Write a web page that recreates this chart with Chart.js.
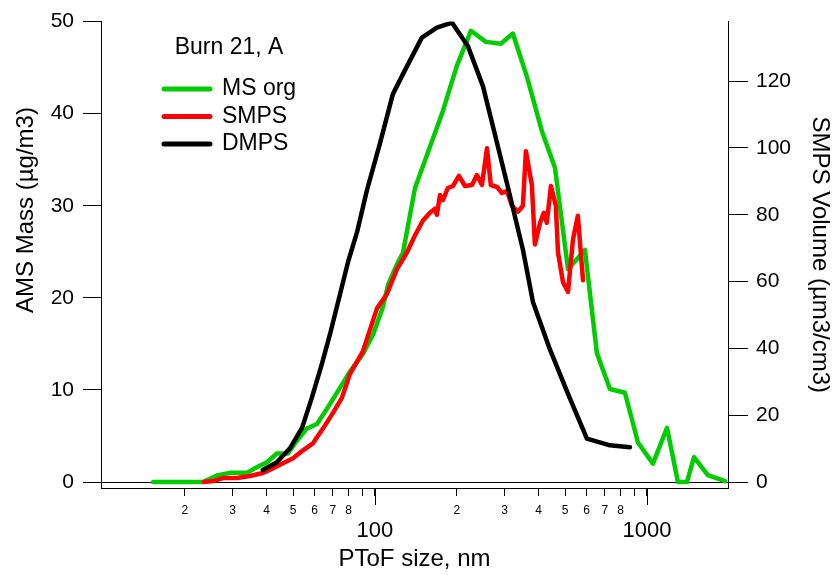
<!DOCTYPE html>
<html>
<head>
<meta charset="utf-8">
<title>Burn 21, A</title>
<script src="https://cdn.jsdelivr.net/npm/chart.js@4.4.1/dist/chart.umd.min.js"></script>
<style>
  html, body { margin: 0; padding: 0; background: #fff; }
</style>
</head>
<body>
<canvas id="sizeChart" width="832" height="575"></canvas>
<script>
// MS org (AMS mass, left axis)
const msOrgSize = [15.3, 23.3, 26.5, 29.3, 33.8, 36.8, 40.1, 43.6, 47.9, 50.8, 56.2, 61.2, 67.1, 74.3, 80.9, 90.3, 98.4, 107, 111.7, 121.6, 126.8, 140.3, 177.8, 200, 225.4, 255.9, 290.4, 321.4, 362.2, 411.1, 459.2, 512.6, 591.6, 654.6, 731, 829.9, 926.8, 1052, 1185, 1300, 1403, 1489, 1675, 1936];
const msOrgMass = [0, 0, 0.75, 1.0, 1.0, 1.6, 2.15, 3.1, 3.1, 4.2, 5.8, 6.3, 8.1, 10.2, 12.0, 13.9, 16.0, 19.0, 21.4, 23.9, 24.9, 31.9, 40.3, 45.2, 49.0, 47.8, 47.6, 48.7, 44.0, 38.1, 34.1, 23.1, 25.2, 14.0, 10.1, 9.7, 4.3, 2.0, 5.9, 0, 0, 2.7, 0.75, 0.1];

// SMPS volume (right axis)
const smpsSize = [23.5, 25.4, 27.6, 31.1, 34.7, 38.7, 42.2, 45.9, 50.0, 54.4, 59.2, 64.4, 70.1, 75.6, 80.9, 90.3, 101.7, 110.7, 120.5, 131.1, 140.3, 150, 159.3, 166.3, 169, 173.4, 177.8, 185.4, 193.6, 203.6, 214.3, 227.5, 237.1, 247.4, 258.2, 266.7, 281.2, 293.1, 305.6, 319.1, 335.7, 349.9, 358.9, 377.6, 387.3, 404.6, 417.8, 428.5, 443.6, 462.4, 471, 491, 512.6, 534.6, 557.2, 582.1];
const smpsVolume = [0, 0.3, 1.2, 1.2, 1.8, 2.7, 4.1, 5.6, 7.1, 9.5, 11.6, 16.0, 20.7, 25.2, 32.3, 39.1, 51.9, 56.3, 63.7, 68.7, 73.8, 78.2, 80.6, 81.8, 80.0, 85.9, 84.4, 88.0, 88.6, 91.6, 88.6, 88.9, 91.9, 88.9, 99.9, 88.9, 88.3, 86.5, 87.1, 82.7, 80.9, 82.7, 99.0, 88.9, 71.1, 77.6, 80.6, 77.6, 88.6, 82.7, 68.7, 59.9, 56.9, 72.6, 79.7, 60.4];

// DMPS volume (right axis)
const dmpsSize = [38.7, 43.6, 48.7, 54.0, 58.6, 63.8, 68.3, 74.3, 79.6, 85.9, 93.5, 104.3, 116.4, 131.1, 148.8, 169, 191.9, 219.8, 249.5, 271.6, 305.6, 349.9, 381, 439.9, 512.6, 601.6, 731, 866];
const dmpsVolume = [3.6, 5.9, 10.1, 16.3, 25.2, 35.3, 44.1, 56.0, 65.8, 74.7, 87.4, 101.3, 116.1, 124.4, 133.0, 136.0, 137.5, 130.4, 118.5, 106.4, 89.5, 69.6, 53.9, 39.7, 26.4, 13.0, 11.0, 10.4];

// axis ticks
const xTicks = [20, 30, 40, 50, 60, 70, 80, 90, 100, 200, 300, 400, 500, 600, 700, 800, 900, 1000];
const xMajor = [100, 1000];
const massTicks = [0, 10, 20, 30, 40, 50];
const volumeTicks = [0, 20, 40, 60, 80, 100, 120];

const legendTitle = 'Burn 21, A';
const massTitle = 'AMS Mass (µg/m3)';
const FONT = "'Liberation Sans', Arial, sans-serif";

Chart.defaults.font.family = FONT;
Chart.defaults.color = '#000';

function pairs(xs, ys) {
    return xs.map((x, i) => ({ x: x, y: ys[i] }));
}

// legend in the upper left of the plot
const legendPlugin = {
    id: 'burnLegend',
    afterDraw(chart) {
        const c = chart.ctx;
        c.save();
        c.font = '23px ' + FONT;
        c.fillStyle = '#000';
        c.textBaseline = 'middle';
        c.textAlign = 'center';
        c.fillText(legendTitle, 229, 48);
        c.textAlign = 'left';
        chart.data.datasets.forEach((ds, i) => {
            const y = 89 + i * 27.5;
            c.strokeStyle = ds.borderColor;
            c.lineWidth = 5;
            c.lineCap = 'round';
            c.beginPath();
            c.moveTo(164, y);
            c.lineTo(210, y);
            c.stroke();
            c.fillText(ds.label, 222, y);
        });
        c.restore();
    }
};

// longer tick marks for the decades, and the left axis title (sits above centre)
const axisExtrasPlugin = {
    id: 'axisExtras',
    afterDraw(chart) {
        const sx = chart.scales.x;
        const c = chart.ctx;
        const top = chart.chartArea.bottom;
        c.save();
        c.strokeStyle = '#000';
        c.lineWidth = 1;
        xMajor.forEach(v => {
            const px = Math.round(sx.getPixelForValue(v)) + 0.5;
            c.beginPath();
            c.moveTo(px, top);
            c.lineTo(px, top + 17);
            c.stroke();
        });
        c.translate(33, 210);
        c.rotate(-Math.PI / 2);
        c.font = '24px ' + FONT;
        c.fillStyle = '#000';
        c.textAlign = 'center';
        c.textBaseline = 'alphabetic';
        c.fillText(massTitle, 0, 0);
        c.restore();
    }
};

const ctx = document.getElementById('sizeChart').getContext('2d');
new Chart(ctx, {
    type: 'line',
    data: {
        datasets: [
            { label: 'MS org', data: pairs(msOrgSize, msOrgMass), borderColor: '#00cc00', yAxisID: 'yMass', order: 3 },
            { label: 'SMPS', data: pairs(smpsSize, smpsVolume), borderColor: '#ff0000', yAxisID: 'yVol', order: 2 },
            { label: 'DMPS', data: pairs(dmpsSize, dmpsVolume), borderColor: '#000000', yAxisID: 'yVol', order: 1 }
        ]
    },
    options: {
        responsive: false,
        animation: false,
        layout: { padding: { top: 17, left: 0, right: 0, bottom: 0 } },
        elements: {
            point: { radius: 0 },
            line: { borderWidth: 4.5, tension: 0, borderJoinStyle: 'round', borderCapStyle: 'round', fill: false }
        },
        plugins: {
            legend: { display: false },
            tooltip: { enabled: false }
        },
        scales: {
            x: {
                type: 'logarithmic',
                position: 'bottom',
                min: 9.84,
                max: 1986,
                afterBuildTicks: s => { s.ticks = xTicks.map(v => ({ value: v, major: xMajor.includes(v) })); },
                afterFit: s => { s.height = 87; },
                ticks: {
                    autoSkip: false,
                    maxRotation: 0,
                    padding: 7,
                    callback: function (value) {
                        if (xMajor.includes(value)) return ['', String(value)];
                        const lead = Math.round(value / Math.pow(10, Math.floor(Math.log10(value) + 1e-9)));
                        return lead === 9 ? '' : String(lead);
                    },
                    font: c => (c.tick && xMajor.includes(c.tick.value)) ? { size: 22, lineHeight: 0.85 } : { size: 12, lineHeight: 1.2 }
                },
                grid: { drawOnChartArea: false, tickLength: 8, tickColor: '#000', tickWidth: 1 },
                border: { color: '#000', width: 1 },
                title: { display: true, text: 'PToF size, nm', font: { size: 24 }, padding: { top: 0, bottom: 1 } }
            },
            yMass: {
                type: 'linear',
                position: 'left',
                min: -0.645,
                max: 50,
                afterBuildTicks: s => { s.ticks = massTicks.map(v => ({ value: v })); },
                afterFit: s => { s.width = 101; },
                ticks: { padding: 9, font: { size: 21 } },
                grid: {
                    drawOnChartArea: true,
                    color: c => (c.tick && c.tick.value === 0) ? '#000' : 'rgba(0,0,0,0)',
                    tickColor: '#000',
                    tickLength: 18,
                    lineWidth: 1
                },
                border: { color: '#000', width: 1 },
                title: { display: false }
            },
            yVol: {
                type: 'linear',
                position: 'right',
                min: -1.78,
                max: 137.8,
                afterBuildTicks: s => { s.ticks = volumeTicks.map(v => ({ value: v })); },
                afterFit: s => { s.width = 104; },
                ticks: { padding: 8, font: { size: 21 } },
                grid: { drawOnChartArea: false, tickColor: '#000', tickLength: 20 },
                border: { color: '#000', width: 1 },
                title: { display: true, text: 'SMPS Volume (µm3/cm3)', font: { size: 24, lineHeight: 1.0 }, padding: { top: 0, bottom: 0 } }
            }
        }
    },
    plugins: [legendPlugin, axisExtrasPlugin]
});
</script>
</body>
</html>
